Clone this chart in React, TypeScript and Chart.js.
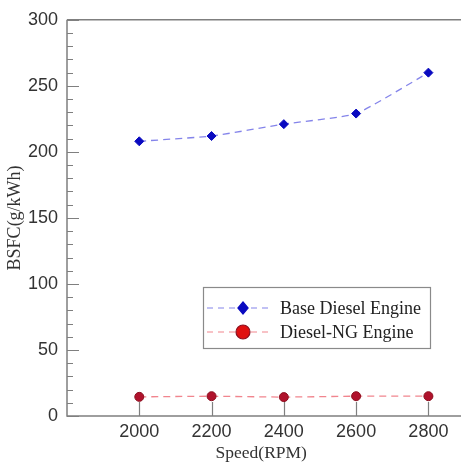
import React, { useEffect, useRef } from "react";
import { Chart, registerables } from "chart.js";

Chart.register(...registerables);

const speeds = [2000, 2200, 2400, 2600, 2800];
const baseDiesel = [208, 212, 221, 229, 260];
const dieselNG = [14.5, 15, 14.3, 15, 15];
const xTickValues = [2000, 2200, 2400, 2600, 2800];
const yTickValues = [0, 50, 100, 150, 200, 250, 300];
const seriesNames = ["Base Diesel Engine", "Diesel-NG Engine"];

const AXIS_COLOR = "#7f7f7f";

const axesPlugin = {
  id: "innerAxes",
  afterDatasetsDraw(chart: any) {
    const { ctx, chartArea } = chart;
    const xs = chart.scales.x;
    const ys = chart.scales.y;
    const rightEdge = chart.width;
    ctx.save();
    ctx.strokeStyle = AXIS_COLOR;
    ctx.lineWidth = 1.5;
    ctx.beginPath();
    ctx.moveTo(chartArea.left, chartArea.top);
    ctx.lineTo(rightEdge, chartArea.top);
    ctx.moveTo(chartArea.left, chartArea.top);
    ctx.lineTo(chartArea.left, chartArea.bottom);
    ctx.lineTo(rightEdge, chartArea.bottom);
    ctx.stroke();
    ctx.lineWidth = 1.2;
    ctx.beginPath();
    for (let v = 0; v <= 300; v += 10) {
      const py = Math.round(ys.getPixelForValue(v)) + 0.5;
      const len = v % 50 === 0 ? 12 : 6;
      ctx.moveTo(chartArea.left, py);
      ctx.lineTo(chartArea.left + len, py);
    }
    for (const v of xTickValues) {
      const px = Math.round(xs.getPixelForValue(v)) + 0.5;
      ctx.moveTo(px, chartArea.bottom);
      ctx.lineTo(px, chartArea.bottom - 14);
    }
    ctx.stroke();
    ctx.restore();
  },
};

const legendPlugin = {
  id: "boxLegend",
  afterDraw(chart: any) {
    const { ctx } = chart;
    const x0 = 203, y0 = 287, w = 227, h = 61;
    ctx.save();
    ctx.fillStyle = "#ffffff";
    ctx.fillRect(x0, y0, w, h);
    ctx.strokeStyle = "#8a8a8a";
    ctx.lineWidth = 1.2;
    ctx.strokeRect(x0 + 0.5, y0 + 0.5, w, h);
    const rows = [y0 + 21, y0 + 45];
    chart.data.datasets.forEach((ds: any, i: number) => {
      const y = rows[i];
      ctx.strokeStyle = ds.borderColor;
      ctx.lineWidth = 1.2;
      ctx.setLineDash([6, 5]);
      ctx.beginPath();
      ctx.moveTo(x0 + 4, y);
      ctx.lineTo(x0 + 66, y);
      ctx.stroke();
      ctx.setLineDash([]);
      ctx.fillStyle = ds.pointBackgroundColor;
      ctx.strokeStyle = ds.pointBorderColor;
      const cx = x0 + 40;
      ctx.beginPath();
      if (i === 0) {
        const r = 6;
        ctx.moveTo(cx, y - r);
        ctx.lineTo(cx + r * 0.85, y);
        ctx.lineTo(cx, y + r);
        ctx.lineTo(cx - r * 0.85, y);
        ctx.closePath();
      } else {
        ctx.fillStyle = "#e01010";
        ctx.arc(cx, y, 7, 0, Math.PI * 2);
      }
      ctx.fill();
      ctx.stroke();
      ctx.fillStyle = "#222222";
      ctx.font = "18px 'Liberation Serif', 'DejaVu Serif', serif";
      ctx.textBaseline = "middle";
      ctx.textAlign = "left";
      ctx.fillText(ds.label, x0 + 77, y + 1);
    });
    ctx.restore();
  },
};

export default function App() {
  const ref = useRef<HTMLCanvasElement | null>(null);
  useEffect(() => {
    if (!ref.current) return;
    const chart = new Chart(ref.current, {
      type: "line",
      data: {
        datasets: [
          {
            label: seriesNames[0],
            data: speeds.map((s, i) => ({ x: s, y: baseDiesel[i] })),
            borderColor: "rgba(110,110,230,0.85)",
            borderWidth: 1.3,
            borderDash: [7, 5],
            tension: 0.15,
            pointStyle: "rectRot",
            pointRadius: 4.5,
            pointBackgroundColor: "#0a0ac0",
            pointBorderColor: "#0a0ac0",
            pointBorderWidth: 1,
          },
          {
            label: seriesNames[1],
            data: speeds.map((s, i) => ({ x: s, y: dieselNG[i] })),
            borderColor: "rgba(240,120,130,0.9)",
            borderWidth: 1.3,
            borderDash: [7, 5],
            tension: 0,
            pointStyle: "circle",
            pointRadius: 4.5,
            pointBackgroundColor: "#b0122c",
            pointBorderColor: "#8c1020",
            pointBorderWidth: 1,
          },
        ],
      },
      options: {
        animation: false,
        responsive: false,
        layout: { padding: { top: 18, right: 0, bottom: 0, left: 0 } },
        plugins: { legend: { display: false }, tooltip: { enabled: false } },
        scales: {
          x: {
            type: "linear",
            min: 1800,
            max: 2875,
            afterBuildTicks: (s: any) => {
              s.ticks = xTickValues.map((v) => ({ value: v }));
            },
            afterFit: (s: any) => {
              s.height = 48;
            },
            grid: { display: false, drawTicks: false },
            border: { display: false },
            ticks: {
              padding: 5,
              color: "#333333",
              font: { family: "'Liberation Sans', Arial, sans-serif", size: 18 },
              maxRotation: 0,
              autoSkip: false,
              callback: (v: any) => String(v),
            },
            title: {
              display: true,
              text: "Speed(RPM)",
              color: "#333333",
              font: { family: "'Liberation Serif', 'DejaVu Serif', serif", size: 17.5 },
              padding: { top: -3, bottom: 0 },
            },
          },
          y: {
            type: "linear",
            min: 0,
            max: 300,
            afterBuildTicks: (s: any) => {
              s.ticks = yTickValues.map((v) => ({ value: v }));
            },
            afterFit: (s: any) => {
              s.width = 67;
            },
            grid: { display: false, drawTicks: false },
            border: { display: false },
            ticks: {
              padding: 9,
              color: "#333333",
              font: { family: "'Liberation Sans', Arial, sans-serif", size: 18 },
              callback: (v: any) => String(v),
            },
            title: {
              display: true,
              text: "BSFC(g/kWh)",
              color: "#333333",
              font: { family: "'Liberation Serif', 'DejaVu Serif', serif", size: 18 },
              padding: { top: 4, bottom: 0 },
            },
          },
        },
      },
      plugins: [axesPlugin, legendPlugin],
    } as any);
    return () => chart.destroy();
  }, []);
  return (
    <canvas
      ref={ref}
      width={461}
      height={464}
      style={{ position: "fixed", left: 0, top: 0, width: 461, height: 464 }}
    />
  );
}
